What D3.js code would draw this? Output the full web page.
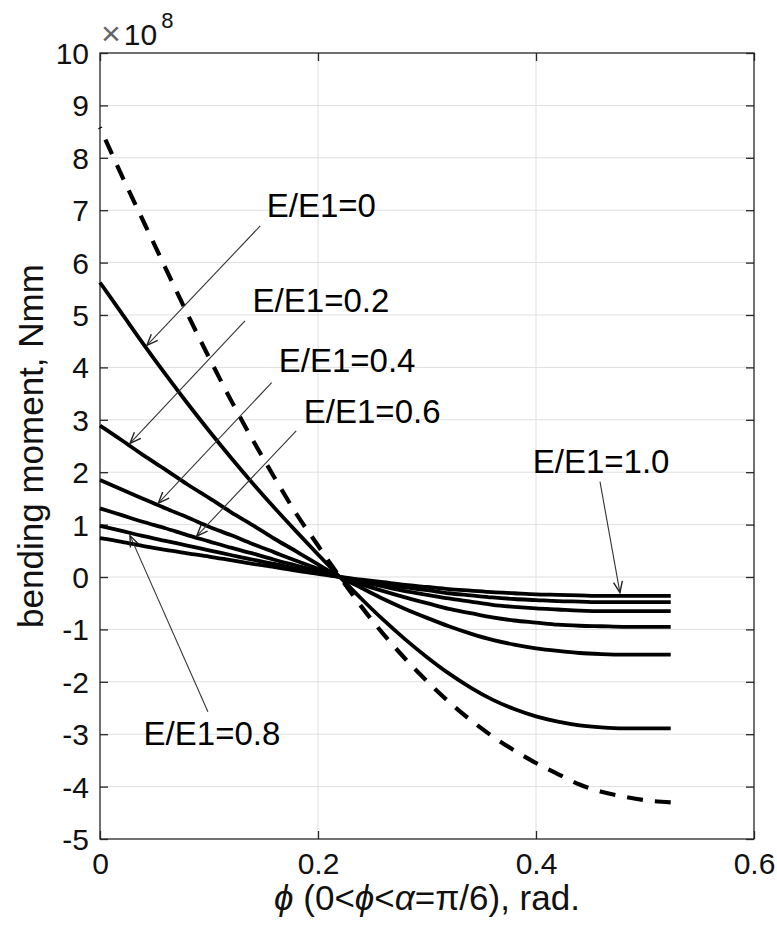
<!DOCTYPE html>
<html><head><meta charset="utf-8">
<script src="https://cdn.jsdelivr.net/npm/d3@7"></script>
<style>body{margin:0;background:#fff} svg{display:block}</style>
</head><body>
<svg id="chart" width="777" height="940"></svg>
<script>
// ---- data (bending moment in units of 1e8 Nmm) ----
const phi = [0,0.02,0.04,0.06,0.08,0.10,0.12,0.14,0.16,0.18,0.20,0.22,0.24,0.26,0.28,0.30,0.32,0.34,0.36,0.38,0.40,0.42,0.44,0.46,0.48,0.50,0.5236];
const mDashed = [8.58,7.66,6.78,5.90,5.03,4.19,3.38,2.62,1.90,1.21,0.60,0.0,-0.57,-1.09,-1.56,-1.99,-2.38,-2.73,-3.04,-3.31,-3.55,-3.76,-3.96,-4.10,-4.19,-4.26,-4.30];
const mE00 = [5.62,5.03,4.44,3.87,3.32,2.79,2.28,1.79,1.32,0.87,0.43,0.0,-0.42,-0.82,-1.19,-1.53,-1.84,-2.11,-2.34,-2.52,-2.66,-2.76,-2.83,-2.87,-2.89,-2.89,-2.89];
const mE02 = [2.89,2.61,2.32,2.05,1.77,1.51,1.24,0.99,0.73,0.49,0.24,0.0,-0.21,-0.42,-0.61,-0.78,-0.94,-1.08,-1.20,-1.29,-1.36,-1.41,-1.45,-1.47,-1.48,-1.48,-1.48];
const mE04 = [1.85,1.67,1.49,1.31,1.14,0.96,0.80,0.63,0.47,0.31,0.16,0.0,-0.14,-0.27,-0.39,-0.50,-0.61,-0.69,-0.77,-0.83,-0.87,-0.91,-0.93,-0.94,-0.95,-0.95,-0.95];
const mE06 = [1.31,1.18,1.05,0.93,0.80,0.68,0.56,0.45,0.33,0.22,0.11,0.0,-0.09,-0.18,-0.27,-0.34,-0.41,-0.47,-0.53,-0.57,-0.60,-0.62,-0.64,-0.65,-0.65,-0.65,-0.65];
const mE08 = [0.975,0.88,0.78,0.69,0.60,0.51,0.42,0.33,0.25,0.16,0.08,0.0,-0.07,-0.14,-0.20,-0.25,-0.31,-0.35,-0.39,-0.42,-0.44,-0.46,-0.47,-0.48,-0.48,-0.48,-0.48];
const mE10 = [0.74,0.67,0.59,0.52,0.45,0.39,0.32,0.25,0.19,0.12,0.06,0.0,-0.05,-0.10,-0.15,-0.19,-0.23,-0.26,-0.29,-0.31,-0.33,-0.34,-0.35,-0.36,-0.36,-0.36,-0.36];

const xTicks = [0,0.2,0.4,0.6];
const xTickLabels = ["0","0.2","0.4","0.6"];
const yTicks = [-5,-4,-3,-2,-1,0,1,2,3,4,5,6,7,8,9,10];
const yTickLabels = ["-5","-4","-3","-2","-1","0","1","2","3","4","5","6","7","8","9","10"];

// annotation labels: text anchor (phi, M) and arrow from (phi, M) to tip (phi, M)
const annLabels = ["E/E1=0","E/E1=0.2","E/E1=0.4","E/E1=0.6","E/E1=0.8","E/E1=1.0"];
const annText   = [[0.153,6.87],[0.140,5.06],[0.164,3.91],[0.187,2.94],[0.040,-3.21],[0.397,1.98]];
const annFrom   = [[0.147,6.70],[0.133,4.89],[0.1575,3.71],[0.180,2.79],[0.099,-2.57],[0.4587,1.82]];
const annTip    = [[0.043,4.42],[0.0275,2.55],[0.0535,1.41],[0.0887,0.78],[0.0275,0.79],[0.477,-0.30]];

// ---- layout ----
const svg = d3.select("#chart");
const L = 100, R = 754, T = 53, B = 839;
const x = d3.scaleLinear().domain([0,0.6]).range([L,R]);
const y = d3.scaleLinear().domain([-5,10]).range([B,T]);
const font = "'Liberation Sans', Arial, Helvetica, sans-serif";
const axisColor = "#262626";

// grid
const g = svg.append("g");
g.selectAll(".gx").data(xTicks.slice(1,-1)).join("line")
  .attr("x1",d=>x(d)).attr("x2",d=>x(d)).attr("y1",T).attr("y2",B)
  .attr("stroke","#dfdfdf").attr("stroke-width",1);
g.selectAll(".gy").data(yTicks.slice(1,-1)).join("line")
  .attr("y1",d=>y(d)).attr("y2",d=>y(d)).attr("x1",L).attr("x2",R)
  .attr("stroke","#dfdfdf").attr("stroke-width",1);

// axes with inward ticks on all sides
const tl = 8;
const axB = d3.axisBottom(x).tickValues(xTicks).tickSize(tl).tickFormat((d,i)=>xTickLabels[i]);
const axL = d3.axisLeft(y).tickValues(yTicks).tickSize(tl).tickFormat((d,i)=>yTickLabels[i]);
const axT = d3.axisTop(x).tickValues(xTicks).tickSize(tl).tickFormat("");
const axR = d3.axisRight(y).tickValues(yTicks).tickSize(tl).tickFormat("");

function styleAxis(sel, inwardSign, horiz){
  sel.selectAll(".tick line").attr("stroke",axisColor).attr("stroke-width",1.3)
    .attr(horiz?"y2":"x2", inwardSign*tl);
  sel.selectAll("text").attr("font-family",font).attr("font-size",30).attr("fill","#111");
}
const gb = svg.append("g").attr("transform",`translate(0,${B})`).call(axB);
styleAxis(gb,-1,true);
gb.selectAll("text").attr("y",14).attr("dy","0.71em");
const gl = svg.append("g").attr("transform",`translate(${L},0)`).call(axL);
styleAxis(gl,1,false);
gl.selectAll("text").attr("x",-11).attr("dy","0.35em");
const gt = svg.append("g").attr("transform",`translate(0,${T})`).call(axT);
styleAxis(gt,1,true);
const gr = svg.append("g").attr("transform",`translate(${R},0)`).call(axR);
styleAxis(gr,-1,false);
[gb,gl,gt,gr].forEach(s=>s.select(".domain").remove());
svg.append("rect").attr("x",L).attr("y",T).attr("width",R-L).attr("height",B-T)
  .attr("fill","none").attr("stroke",axisColor).attr("stroke-width",1.3);

// exponent label
const ex = svg.append("text").attr("x",L+1).attr("y",45).attr("font-family",font).attr("fill","#111");
ex.append("tspan").text("\u00d7").attr("font-size",34).attr("fill","#666");
ex.append("tspan").text("10").attr("font-size",30).attr("dx",3);
ex.append("tspan").text("8").attr("font-size",22).attr("dx",4).attr("dy",-17);

// curves
const line = d3.line().x((d,i)=>x(phi[i])).y(d=>y(d)).curve(d3.curveMonotoneX);
const solidSeries = [mE00,mE02,mE04,mE06,mE08,mE10];
svg.append("g").selectAll("path").data(solidSeries).join("path")
  .attr("d",line).attr("fill","none").attr("stroke","#000").attr("stroke-width",3.8);
const dash = svg.append("path").datum(mDashed).attr("d",line).attr("fill","none")
  .attr("stroke","#000").attr("stroke-width",4.2).attr("stroke-dasharray","16,12");
const dlen = dash.node().getTotalLength();
dash.attr("stroke-dashoffset", ((16 - dlen) % 28 + 28) % 28);

// annotations
const ag = svg.append("g");
annLabels.forEach((lab,i)=>{
  const [fx,fy] = [x(annFrom[i][0]), y(annFrom[i][1])];
  const [tx,ty] = [x(annTip[i][0]), y(annTip[i][1])];
  ag.append("line").attr("x1",fx).attr("y1",fy).attr("x2",tx).attr("y2",ty)
    .attr("stroke","#333").attr("stroke-width",1.1);
  const ang = Math.atan2(ty-fy, tx-fx);
  const hl = 12, ha = 0.38;
  const p1 = [tx - hl*Math.cos(ang-ha), ty - hl*Math.sin(ang-ha)];
  const p2 = [tx - hl*Math.cos(ang+ha), ty - hl*Math.sin(ang+ha)];
  ag.append("path").attr("d",`M${p1[0]},${p1[1]}L${tx},${ty}L${p2[0]},${p2[1]}`)
    .attr("fill","none").attr("stroke","#222").attr("stroke-width",1.4);
  ag.append("text").attr("x",x(annText[i][0])).attr("y",y(annText[i][1]))
    .attr("font-family",font).attr("font-size",33).attr("fill","#000").text(lab);
});

// axis labels
const xl = svg.append("text").attr("x",(L+R)/2).attr("y",910).attr("text-anchor","middle")
  .attr("font-family",font).attr("font-size",35).attr("fill","#111");
xl.append("tspan").text("\u03d5").attr("font-style","italic");
xl.append("tspan").text(" (0<");
xl.append("tspan").text("\u03d5").attr("font-style","italic");
xl.append("tspan").text("<");
xl.append("tspan").text("\u03b1").attr("font-style","italic");
xl.append("tspan").text("=\u03c0/6), rad.");

svg.append("text").attr("transform",`translate(43,${(T+B)/2}) rotate(-90)`)
  .attr("text-anchor","middle").attr("font-family",font).attr("font-size",35)
  .attr("fill","#111").text("bending moment, Nmm");
</script>
</body></html>
